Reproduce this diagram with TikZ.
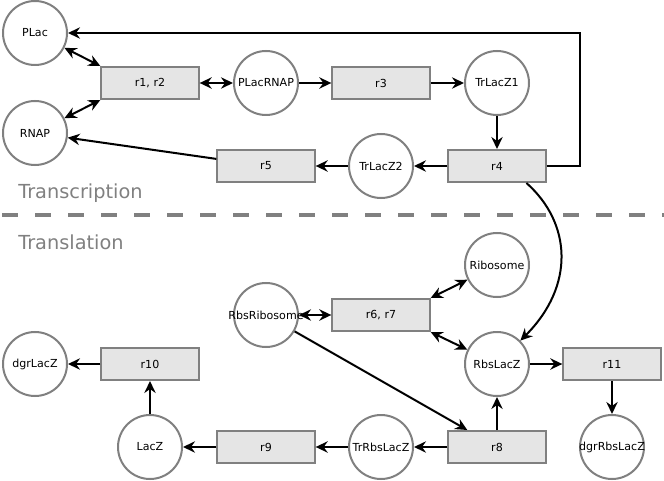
\documentclass[tikz,border=0pt]{standalone}
\usepackage{fontspec}
\setmainfont{DejaVu Sans}
\usetikzlibrary{arrows.meta}
\definecolor{linegray}{HTML}{808080}
\definecolor{boxfill}{HTML}{E5E5E5}
\tikzset{
  species/.style={draw=linegray, line width=1.5pt, circle, fill=white, minimum size=48pt, inner sep=0pt, font=\fontsize{8.3}{9}\selectfont},
  reaction/.style={draw=linegray, line width=1.5pt, fill=boxfill, minimum width=73pt, minimum height=24pt, inner sep=0pt, font=\fontsize{8.3}{9}\selectfont},
  flowarrow/.style={-{Stealth[length=9pt, width=8.5pt, inset=3pt]}, line width=1.5pt},
  bothways/.style={{Stealth[length=9pt, width=8.5pt, inset=3pt]}-{Stealth[length=9pt, width=8.5pt, inset=3pt]}, line width=1.5pt},
  phase/.style={text=linegray, anchor=base west, inner sep=0pt, font=\fontsize{14.5}{16}\selectfont},
  divider/.style={draw=linegray, line width=3pt, dash pattern=on 12pt off 12.75pt}
}
\begin{document}
\begin{tikzpicture}[x=0.75pt, y=-0.75pt]
  \useasboundingbox (0,0) rectangle (664,481);
  \node[species] (PLac) at (35,33) {PLac};
  \node[species] (RNAP) at (35,133) {RNAP};
  \node[reaction] (r12) at (150,83) {r1, r2};
  \node[species] (PLacRNAP) at (266,83) {PLacRNAP};
  \node[reaction] (r3) at (381,83) {r3};
  \node[species] (TrLacZ1) at (497,83) {TrLacZ1};
  \node[reaction] (r4) at (497,166) {r4};
  \node[species] (TrLacZ2) at (381,166) {TrLacZ2};
  \node[reaction] (r5) at (266,166) {r5};
  \node[phase] (transcription) at (18,199) {Transcription};
  \draw[divider] (2,215) -- (664,215);
  \node[phase] (translation) at (18,249) {Translation};
  \node[species] (Ribosome) at (497,265) {Ribosome};
  \node[species] (RbsRibosome) at (266,315) {\makebox[0pt]{RbsRibosome}};
  \node[reaction] (r67) at (381,315) {r6, r7};
  \node[species] (RbsLacZ) at (497,364) {RbsLacZ};
  \node[reaction] (r11) at (612,364) {r11};
  \node[species] (dgrRbsLacZ) at (612,447) {\makebox[0pt]{dgrRbsLacZ}};
  \node[reaction] (r8) at (497,447) {r8};
  \node[species] (TrRbsLacZ) at (381,447) {TrRbsLacZ};
  \node[reaction] (r9) at (266,447) {r9};
  \node[species] (LacZ) at (150,447) {LacZ};
  \node[reaction] (r10) at (150,364) {r10};
  \node[species] (dgrLacZ) at (35,364) {dgrLacZ};

  \draw[bothways] (PLac) -- (r12.north west);
  \draw[bothways] (RNAP) -- (r12.south west);
  \draw[bothways] (r12) -- (PLacRNAP);
  \draw[flowarrow] (PLacRNAP) -- (r3);
  \draw[flowarrow] (r3) -- (TrLacZ1);
  \draw[flowarrow] (TrLacZ1) -- (r4);
  \draw[flowarrow] (r4) -- (TrLacZ2);
  \draw[flowarrow] (TrLacZ2) -- (r5);
  \draw[flowarrow] (r5) -- (RNAP);
  \draw[flowarrow] (r4.east) -- ++(33,0) |- (PLac.east);
  \draw[flowarrow] (r4.-30) .. controls +(45,40) and +(55,-55) .. (RbsLacZ.45);

  \draw[bothways] (r67.north east) -- (Ribosome);
  \draw[bothways] (r67.south east) -- (RbsLacZ);
  \draw[bothways] (RbsRibosome) -- (r67);
  \draw[flowarrow] (RbsRibosome) -- (r8);
  \draw[flowarrow] (r8) -- (RbsLacZ);
  \draw[flowarrow] (RbsLacZ) -- (r11);
  \draw[flowarrow] (r11) -- (dgrRbsLacZ);
  \draw[flowarrow] (r8) -- (TrRbsLacZ);
  \draw[flowarrow] (TrRbsLacZ) -- (r9);
  \draw[flowarrow] (r9) -- (LacZ);
  \draw[flowarrow] (LacZ) -- (r10);
  \draw[flowarrow] (r10) -- (dgrLacZ);
\end{tikzpicture}
\end{document}
